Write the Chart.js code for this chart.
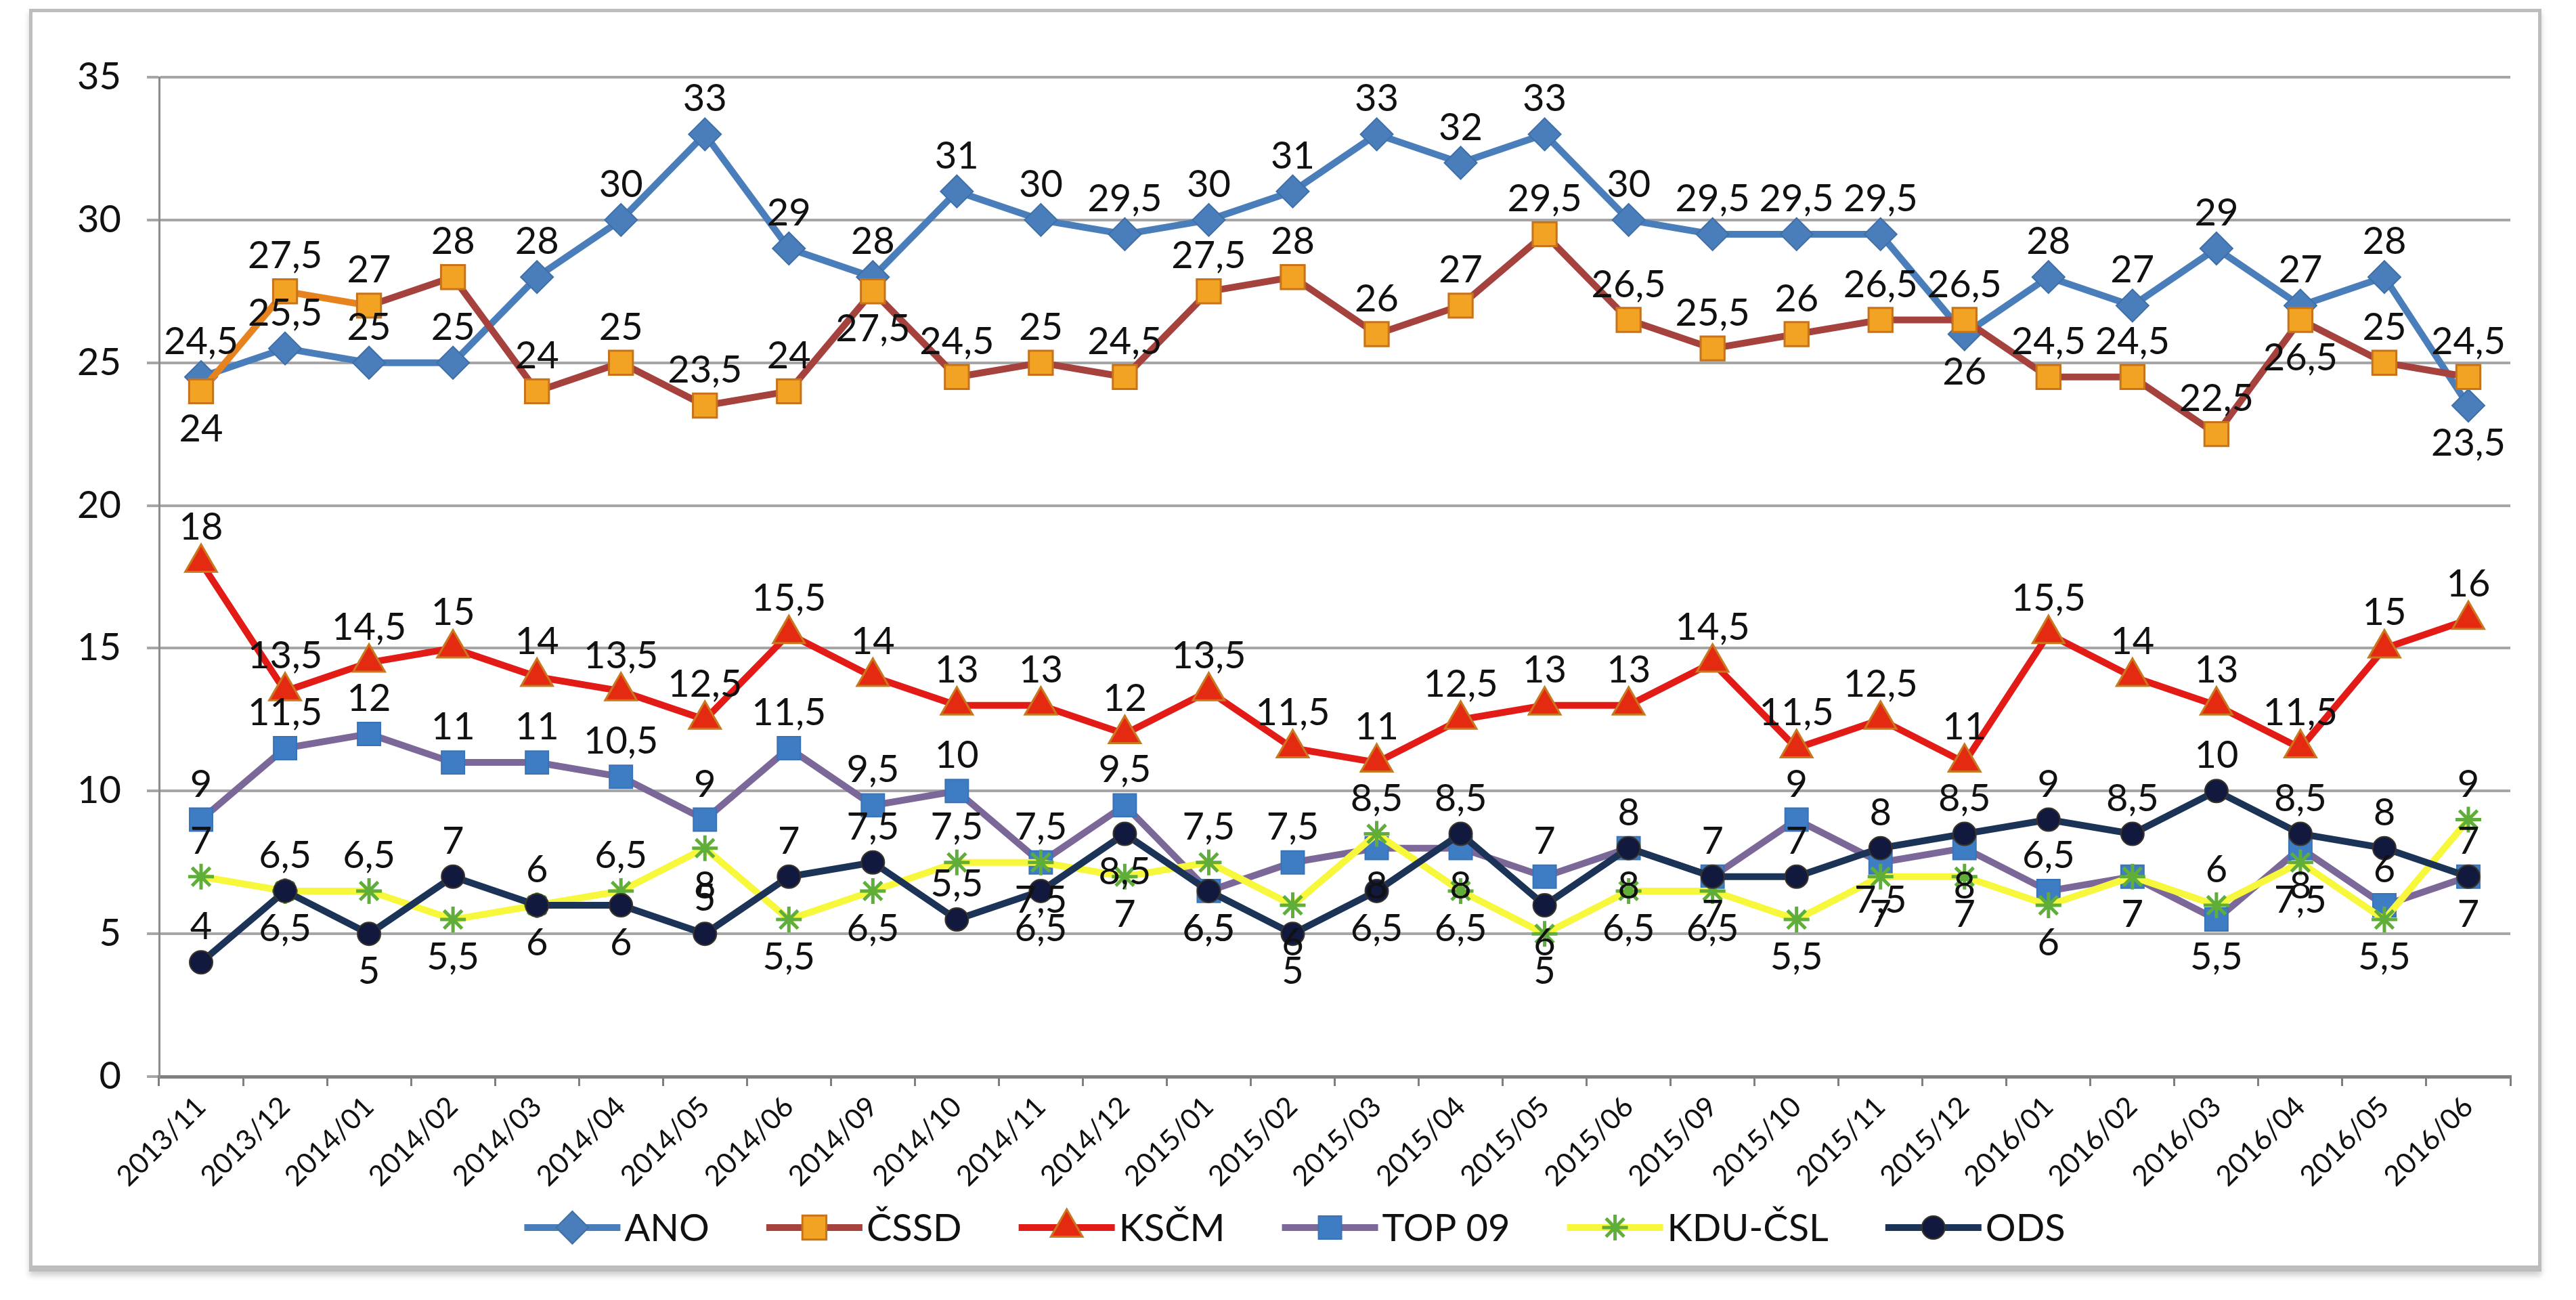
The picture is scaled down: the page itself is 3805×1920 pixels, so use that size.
<!DOCTYPE html>
<html>
<head>
<meta charset="utf-8">
<script src="https://cdn.jsdelivr.net/npm/chart.js@4.4.1/dist/chart.umd.min.js"></script>
<style>
    html, body { margin: 0; padding: 0; background: #fff; }
    #wrap { position: relative; width: 3805px; height: 1920px; overflow: hidden; }
    #pollChart { position: absolute; left: 0; top: 0; }
    #frame {
        position: absolute; left: 43px; top: 13px; width: 3701px; height: 1851px;
        border: 5px solid #BDBDBD; border-bottom-width: 9px;
        box-shadow: 0 6px 8px rgba(0, 0, 0, 0.18); pointer-events: none;
    }
</style>
</head>
<body>
<div id="wrap">
    <canvas id="pollChart" width="3805" height="1920"></canvas>
    <div id="frame"></div>
</div>
<script>
const categories = ['2013/11', '2013/12', '2014/01', '2014/02', '2014/03', '2014/04', '2014/05', '2014/06',
    '2014/09', '2014/10', '2014/11', '2014/12', '2015/01', '2015/02', '2015/03', '2015/04', '2015/05',
    '2015/06', '2015/09', '2015/10', '2015/11', '2015/12', '2016/01', '2016/02', '2016/03', '2016/04',
    '2016/05', '2016/06'];

const ano   = [24.5, 25.5, 25, 25, 28, 30, 33, 29, 28, 31, 30, 29.5, 30, 31, 33, 32, 33, 30, 29.5, 29.5, 29.5, 26, 28, 27, 29, 27, 28, 23.5];
const cssd  = [24, 27.5, 27, 28, 24, 25, 23.5, 24, 27.5, 24.5, 25, 24.5, 27.5, 28, 26, 27, 29.5, 26.5, 25.5, 26, 26.5, 26.5, 24.5, 24.5, 22.5, 26.5, 25, 24.5];
const kscm  = [18, 13.5, 14.5, 15, 14, 13.5, 12.5, 15.5, 14, 13, 13, 12, 13.5, 11.5, 11, 12.5, 13, 13, 14.5, 11.5, 12.5, 11, 15.5, 14, 13, 11.5, 15, 16];
const top09 = [9, 11.5, 12, 11, 11, 10.5, 9, 11.5, 9.5, 10, 7.5, 9.5, 6.5, 7.5, 8, 8, 7, 8, 7, 9, 7.5, 8, 6.5, 7, 5.5, 8, 6, 7];
const kdu   = [7, 6.5, 6.5, 5.5, 6, 6.5, 8, 5.5, 6.5, 7.5, 7.5, 7, 7.5, 6, 8.5, 6.5, 5, 6.5, 6.5, 5.5, 7, 7, 6, 7, 6, 7.5, 5.5, 9];
const ods   = [4, 6.5, 5, 7, 6, 6, 5, 7, 7.5, 5.5, 6.5, 8.5, 6.5, 5, 6.5, 8.5, 6, 8, 7, 7, 8, 8.5, 9, 8.5, 10, 8.5, 8, 7];

const yTicks = [0, 5, 10, 15, 20, 25, 30, 35];

const FONT = 'Lato, "Open Sans", sans-serif';

// label above the point unless another series sits just above it
function labelAbove(datasets, di, i) {
    const v = datasets[di].data[i];
    return !datasets.some((d, j) => {
        if (j === di) return false;
        const w = d.data[i];
        const higher = w > v || (w === v && j < di);
        return higher && w - v <= 1.5;
    });
}

const valueLabels = {
    id: 'valueLabels',
    afterDatasetsDraw(chart) {
        const ctx = chart.ctx;
        ctx.save();
        ctx.font = '56px ' + FONT;
        ctx.fillStyle = '#111';
        ctx.textAlign = 'center';
        ctx.textBaseline = 'middle';
        chart.data.datasets.forEach((ds, di) => {
            chart.getDatasetMeta(di).data.forEach((pt, i) => {
                const up = labelAbove(chart.data.datasets, di, i);
                const text = String(ds.data[i]).replace('.', ',');
                ctx.fillText(text, pt.x, pt.y + (up ? -52 : 56));
            });
        });
        ctx.restore();
    }
};

// Excel style legend: line sample with the marker in the middle
const lineLegend = {
    id: 'lineLegend',
    afterDraw(chart) {
        const ctx = chart.ctx;
        ctx.save();
        ctx.font = '56px ' + FONT;
        const sample = 142, gapText = 6, gapItem = 84;
        const items = chart.data.datasets.map(ds => ({ ds, w: sample + gapText + ctx.measureText(ds.label).width }));
        const total = items.reduce((a, it) => a + it.w, 0) + gapItem * (items.length - 1);
        let x = chart.width / 2 + 10 - total / 2;
        const y = 1813;
        items.forEach(({ ds, w }) => {
            ctx.strokeStyle = ds.legendColor || ds.borderColor;
            ctx.lineWidth = 10;
            ctx.beginPath();
            ctx.moveTo(x, y);
            ctx.lineTo(x + sample, y);
            ctx.stroke();

            ctx.fillStyle = ds.pointBackgroundColor;
            ctx.strokeStyle = ds.pointBorderColor;
            ctx.lineWidth = ds.pointBorderWidth;
            Chart.helpers.drawPoint(ctx, {
                pointStyle: ds.pointStyle, rotation: 0,
                radius: ds.pointRadius, borderWidth: ds.pointBorderWidth
            }, x + sample / 2, y);

            ctx.fillStyle = '#111';
            ctx.textAlign = 'left';
            ctx.textBaseline = 'middle';
            ctx.fillText(ds.label, x + sample + gapText, y + 2);
            x += w + gapItem;
        });
        ctx.restore();
    }
};

const ctx = document.getElementById('pollChart').getContext('2d');

new Chart(ctx, {
    type: 'line',
    data: {
        labels: categories,
        datasets: [
            {
                label: 'ANO', data: ano, order: 6,
                borderColor: '#4A7EBB', borderWidth: 10,
                pointStyle: 'rectRot', pointRadius: 24,
                pointBackgroundColor: '#4A7EBB', pointBorderColor: '#3F6FA8', pointBorderWidth: 2
            },
            {
                label: 'ČSSD', data: cssd, order: 5,
                borderColor: '#A5423E', legendColor: '#A5423E', borderWidth: 10,
                segment: { borderColor: c => c.p0DataIndex < 2 ? '#E7831F' : '#A5423E' },
                pointStyle: 'rect', pointRadius: 25,
                pointBackgroundColor: '#F2A324', pointBorderColor: '#C8731A', pointBorderWidth: 3
            },
            {
                label: 'KSČM', data: kscm, order: 4,
                borderColor: '#E31B17', borderWidth: 10,
                pointStyle: 'triangle', pointRadius: 27,
                pointBackgroundColor: '#E52A12', pointBorderColor: '#C8781E', pointBorderWidth: 3
            },
            {
                label: 'TOP 09', data: top09, order: 3,
                borderColor: '#7C6898', borderWidth: 10,
                pointStyle: 'rect', pointRadius: 24,
                pointBackgroundColor: '#3E7DC4', pointBorderColor: '#3A73B5', pointBorderWidth: 2
            },
            {
                label: 'KDU-ČSL', data: kdu, order: 2,
                borderColor: '#F7F73C', borderWidth: 10,
                pointStyle: 'star', pointRadius: 19,
                pointBackgroundColor: '#5FAE3A', pointBorderColor: '#5FAE3A', pointBorderWidth: 5
            },
            {
                label: 'ODS', data: ods, order: 1,
                borderColor: '#1B3357', borderWidth: 10,
                pointStyle: 'circle', pointRadius: 17,
                pointBackgroundColor: '#111A3E', pointBorderColor: '#3B3428', pointBorderWidth: 2
            }
        ]
    },
    options: {
        responsive: false,
        animation: false,
        devicePixelRatio: 1,
        elements: { line: { tension: 0 } },
        layout: { padding: { left: 100, right: 97, top: 114, bottom: 160 } },
        plugins: {
            legend: { display: false },
            tooltip: { enabled: false }
        },
        scales: {
            x: {
                offset: true,
                grid: { offset: true, drawOnChartArea: false, drawTicks: true, tickLength: 14, color: '#7F7F7F', lineWidth: 3 },
                border: { display: true, color: '#808080', width: 5 },
                ticks: {
                    autoSkip: false, minRotation: 45, maxRotation: 45, padding: 6,
                    color: '#111', font: { family: FONT, size: 42 }
                },
                afterFit: scale => { scale.height = 170; }
            },
            y: {
                min: 0, max: 35,
                afterBuildTicks: scale => { scale.ticks = yTicks.map(v => ({ value: v })); },
                grid: { color: '#A6A6A6', lineWidth: 4, tickLength: 18, drawTicks: true },
                border: { display: true, color: '#8C8C8C', width: 3 },
                ticks: { padding: 38, color: '#111', font: { family: FONT, size: 56 } },
                afterFit: scale => { scale.width = 135; }
            }
        }
    },
    plugins: [valueLabels, lineLegend]
});
</script>
</body>
</html>
